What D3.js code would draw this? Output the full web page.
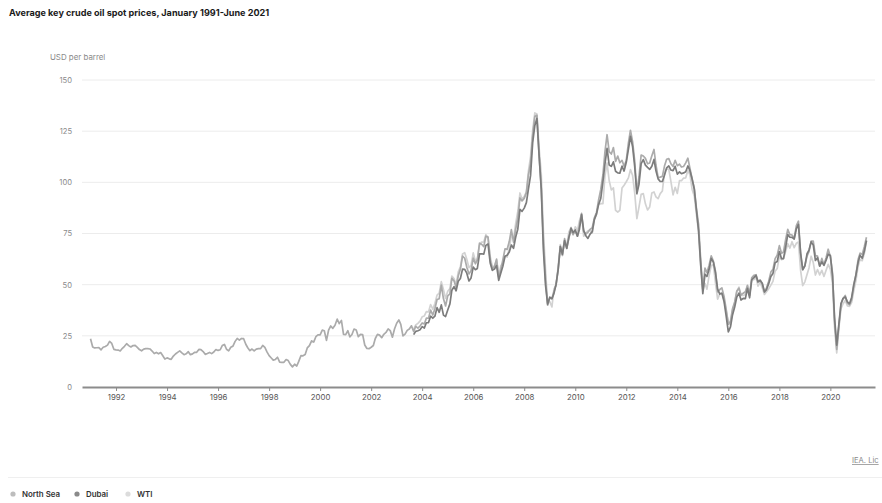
<!DOCTYPE html>
<html>
<head>
<meta charset="utf-8">
<script src="https://cdn.jsdelivr.net/npm/d3@7"></script>
<style>
  html, body { margin: 0; padding: 0; background: #fff; }
  svg { display: block; font-family: Inter, "Open Sans", sans-serif; }
</style>
</head>
<body>
<svg id="chart" width="882" height="503"></svg>
<script>
// Monthly average spot prices, USD per barrel
const northSeaStart = [1991, 0];   // January 1991
const northSea = [
  23.57, 19.54, 19.08, 19.18, 19.19, 18.17, 19.40, 19.77, 20.45, 22.26, 21.28, 18.41,
  18.16, 18.05, 17.63, 18.92, 19.89, 21.16, 20.23, 19.54, 20.26, 20.31, 19.34, 18.31,
  17.69, 18.49, 18.73, 18.71, 18.58, 17.56, 16.36, 16.89, 16.21, 16.84, 15.29, 13.63,
  14.23, 13.76, 13.52, 15.10, 16.12, 16.94, 17.65, 16.68, 15.78, 16.23, 17.25, 15.80,
  16.19, 16.96, 16.93, 18.36, 18.25, 17.30, 15.95, 16.38, 16.91, 16.30, 17.09, 18.32,
  17.87, 18.20, 20.23, 20.81, 18.45, 17.66, 19.44, 19.97, 22.29, 23.73, 22.93, 23.71,
  23.60, 20.87, 19.16, 17.74, 18.56, 17.63, 18.49, 18.76, 18.76, 20.31, 19.31, 17.16,
  15.33, 14.19, 13.16, 13.46, 14.53, 12.13, 12.05, 12.06, 13.43, 12.92, 11.06, 9.82,
  11.11, 10.27, 12.51, 15.29, 15.24, 15.87, 19.08, 20.22, 22.54, 21.94, 24.58, 25.47,
  25.51, 27.78, 27.49, 22.76, 27.74, 29.80, 28.68, 30.20, 33.14, 30.96, 32.55, 25.66,
  25.62, 27.50, 24.50, 25.66, 28.31, 27.85, 24.61, 25.68, 25.62, 20.54, 18.80, 18.71,
  19.42, 20.28, 23.70, 25.73, 25.35, 24.08, 25.74, 26.65, 28.40, 27.54, 24.34, 28.33,
  31.18, 32.77, 30.61, 25.00, 25.86, 27.65, 28.35, 29.89, 27.11, 29.61, 28.75, 29.81,
  31.28, 30.86, 33.63, 33.59, 37.57, 35.18, 38.22, 42.74, 43.16, 49.78, 43.11, 39.60,
  44.51, 45.48, 53.10, 51.88, 48.65, 54.35, 57.52, 63.98, 62.91, 58.54, 55.24, 56.86,
  62.99, 60.21, 62.06, 70.26, 69.78, 68.56, 73.67, 73.23, 61.96, 57.81, 58.76, 62.47,
  53.68, 57.56, 62.05, 67.49, 67.21, 71.05, 76.93, 70.76, 77.17, 82.34, 92.41, 90.93,
  92.18, 94.99, 103.64, 109.07, 122.80, 132.32, 132.72, 113.24, 97.23, 71.58, 52.45, 39.95,
  43.44, 43.32, 46.54, 50.18, 57.30, 68.61, 64.44, 72.51, 67.65, 72.77, 76.66, 74.46,
  76.17, 73.75, 78.83, 84.82, 75.95, 74.76, 75.58, 77.04, 77.84, 82.67, 85.28, 91.45,
  96.52, 103.72, 114.64, 123.26, 114.99, 113.83, 116.97, 110.22, 112.83, 109.55, 110.77, 107.87,
  110.69, 119.33, 125.45, 119.75, 110.34, 95.16, 102.62, 113.36, 112.86, 111.71, 109.06, 109.49,
  112.96, 116.05, 108.47, 102.25, 102.56, 102.92, 107.93, 111.28, 111.60, 109.08, 107.79, 110.76,
  108.12, 108.90, 107.48, 107.76, 109.54, 111.80, 106.77, 101.61, 97.09, 87.43, 79.44, 62.34,
  47.76, 58.10, 55.89, 59.52, 64.08, 61.48, 56.56, 46.52, 47.62, 48.43, 44.27, 38.01,
  30.70, 32.18, 38.21, 41.58, 46.74, 48.25, 44.95, 45.84, 46.57, 49.52, 44.73, 53.31,
  54.58, 54.87, 51.59, 52.31, 50.33, 46.37, 48.48, 51.70, 56.15, 57.51, 62.71, 64.37,
  69.08, 65.32, 66.02, 72.11, 76.98, 74.41, 74.25, 72.53, 78.89, 81.03, 64.75, 57.36,
  59.41, 63.96, 66.14, 71.23, 71.32, 64.22, 63.92, 59.04, 62.83, 59.71, 63.21, 67.31,
  63.65, 55.66, 32.01, 18.38, 29.38, 40.27, 43.24, 44.74, 40.91, 40.19, 42.69, 49.99,
  54.77, 62.28, 65.41, 64.81, 68.53, 73.16
];

const dubaiStart = [2003, 8];      // September 2003
const dubai = [
  25.6, 27.2, 27.5, 28.0,
  29.5, 28.8, 31.4, 31.5, 34.6, 33.6, 34.6, 38.8, 36.5, 40.1, 35.1, 34.4,
  37.6, 40.6, 47.3, 49.0, 47.0, 51.7, 53.0, 57.6, 57.5, 55.6, 51.8, 53.3,
  58.6, 57.3, 57.9, 65.0, 65.1, 64.9, 69.2, 69.9, 60.6, 57.0, 57.6, 59.4,
  52.1, 55.8, 59.0, 63.9, 64.4, 66.0, 69.4, 67.8, 73.3, 77.1, 86.8, 85.8,
  87.4, 90.1, 96.7, 103.4, 119.4, 127.8, 131.2, 113.2, 96.8, 67.4, 49.8, 40.5,
  43.9, 43.1, 45.6, 50.1, 57.4, 68.7, 64.9, 71.5, 67.8, 73.1, 77.6, 75.4,
  76.7, 73.7, 77.0, 84.2, 76.5, 73.9, 72.6, 74.7, 75.9, 81.8, 84.6, 89.2,
  92.1, 100.3, 108.7, 116.6, 108.5, 107.8, 110.0, 105.4, 104.6, 104.5, 107.9, 105.5,
  109.8, 116.2, 122.5, 117.3, 107.6, 94.4, 99.0, 109.1, 111.1, 108.4, 107.3, 106.3,
  107.9, 111.2, 105.6, 101.7, 100.4, 100.4, 103.5, 107.1, 108.0, 106.0, 105.7, 107.8,
  104.0, 105.1, 104.2, 104.6, 105.2, 108.0, 105.7, 101.6, 96.6, 86.6, 76.4, 60.2,
  45.6, 55.1, 54.0, 57.5, 62.8, 61.0, 55.9, 47.8, 45.4, 45.8, 41.8, 34.7,
  26.9, 29.4, 35.2, 39.1, 43.9, 45.9, 42.5, 43.3, 43.2, 48.2, 43.6, 52.4,
  53.4, 54.5, 51.3, 52.0, 50.7, 46.5, 47.6, 50.5, 54.0, 55.5, 60.7, 61.3,
  66.2, 62.7, 62.7, 68.4, 74.5, 73.2, 73.1, 72.3, 77.3, 79.4, 65.6, 57.3,
  59.1, 65.1, 66.9, 70.9, 69.4, 61.8, 63.2, 59.1, 61.1, 59.4, 62.0, 64.9,
  64.3, 54.2, 33.9, 20.4, 30.5, 40.8, 43.3, 44.0, 41.6, 40.7, 43.9, 49.8,
  54.8, 60.9, 64.4, 62.9, 66.3, 71.6
];

const wtiStart = [2003, 8];        // September 2003
const wti = [
  28.3, 30.3, 31.1, 32.2,
  34.3, 34.7, 36.8, 36.7, 40.3, 38.0, 40.8, 44.9, 45.9, 51.5, 47.5, 43.3,
  46.8, 48.1, 54.2, 53.0, 49.8, 56.3, 58.7, 65.0, 65.6, 62.4, 58.3, 59.4,
  65.5, 61.6, 62.7, 69.4, 70.8, 70.9, 74.4, 73.0, 63.8, 58.9, 59.1, 62.0,
  54.5, 59.3, 60.4, 64.0, 63.5, 67.5, 74.1, 72.4, 79.9, 85.8, 94.8, 91.7,
  93.0, 95.4, 105.5, 112.6, 125.4, 133.9, 133.4, 116.7, 104.1, 76.6, 57.3, 41.1,
  41.7, 39.1, 47.9, 49.6, 59.0, 69.6, 64.2, 71.1, 69.4, 75.7, 78.0, 74.5,
  78.3, 76.4, 81.2, 84.3, 73.7, 75.3, 76.3, 76.6, 75.2, 81.9, 84.3, 89.2,
  89.6, 89.6, 102.9, 109.5, 100.9, 96.3, 97.3, 86.3, 85.5, 86.3, 97.2, 98.6,
  100.3, 102.2, 106.2, 103.3, 94.7, 82.3, 87.9, 94.1, 94.5, 89.5, 86.5, 87.9,
  94.8, 95.3, 92.9, 92.0, 94.5, 95.8, 104.6, 106.6, 106.3, 100.5, 93.9, 97.6,
  94.6, 100.8, 100.8, 102.1, 102.2, 105.8, 103.6, 96.5, 93.2, 84.4, 75.8, 59.3,
  47.2, 50.6, 47.8, 54.5, 59.3, 59.8, 50.9, 42.9, 45.5, 46.2, 42.4, 37.2,
  31.7, 30.3, 37.6, 40.8, 46.7, 48.8, 44.7, 44.7, 45.2, 49.8, 45.7, 52.0,
  52.5, 53.5, 49.3, 51.1, 48.5, 45.2, 46.6, 48.0, 49.8, 51.6, 56.6, 57.9,
  63.7, 62.2, 62.7, 66.3, 70.0, 67.9, 71.0, 68.1, 70.2, 70.8, 57.0, 49.5,
  51.4, 55.0, 58.2, 63.9, 60.8, 54.7, 57.4, 54.8, 57.0, 54.0, 57.0, 59.9,
  57.5, 50.5, 29.2, 16.6, 28.6, 38.3, 40.7, 42.3, 39.6, 39.4, 41.4, 47.0,
  52.0, 59.0, 62.3, 61.7, 65.2, 71.4
];

const yTicks = [0, 25, 50, 75, 100, 125, 150];
const xTickYears = [1992, 1994, 1996, 1998, 2000, 2002, 2004, 2006, 2008, 2010, 2012, 2014, 2016, 2018, 2020];

const titleText = "Average key crude oil spot prices, January 1991-June 2021";
const unitText = "USD per barrel";
const sourceText = "IEA. Lic";

const series = [
  { name: "WTI",       start: wtiStart,      values: wti,      color: "#d2d2d2" },
  { name: "North Sea", start: northSeaStart, values: northSea, color: "#ababab" },
  { name: "Dubai",     start: dubaiStart,    values: dubai,    color: "#7c7c7c" }
];
const legendOrder = ["North Sea", "Dubai", "WTI"];
const legendColors = { "North Sea": "#bdbdbd", "Dubai": "#8a8a8a", "WTI": "#dcdcdc" };

const svg = d3.select("#chart");
const plot = { left: 82, right: 875, top: 80, bottom: 387 };

const x = d3.scaleTime()
  .domain([new Date(1990, 8, 1), new Date(2021, 9, 1)])
  .range([plot.left, plot.right]);
const y = d3.scaleLinear().domain([0, 150]).range([plot.bottom, plot.top]);

// title and unit
svg.append("text")
  .attr("x", 9).attr("y", 16)
  .attr("font-size", 9.1).attr("font-weight", 700).attr("fill", "#1a1a1a")
  .text(titleText);
svg.append("text")
  .attr("x", 50).attr("y", 60)
  .attr("font-size", 7.9).attr("fill", "#8a8a8a")
  .text(unitText);

// horizontal grid
svg.append("g")
  .selectAll("line")
  .data(yTicks.filter(d => d > 0))
  .join("line")
  .attr("x1", plot.left).attr("x2", plot.right)
  .attr("y1", d => y(d)).attr("y2", d => y(d))
  .attr("stroke", "#ececec").attr("stroke-width", 1);

// y axis labels
const yAxis = d3.axisLeft(y).tickValues(yTicks).tickSize(0).tickPadding(0);
const yG = svg.append("g").attr("transform", `translate(${plot.left - 10},0)`).call(yAxis);
yG.select(".domain").remove();
yG.selectAll("text")
  .attr("font-family", "Inter, sans-serif")
  .attr("font-size", 7.6).attr("fill", "#8a8a8a");

// x axis
const xAxis = d3.axisBottom(x)
  .tickValues(xTickYears.map(yr => new Date(yr, 0, 1)))
  .tickFormat(d3.timeFormat("%Y"))
  .tickSize(4).tickSizeOuter(0).tickPadding(3);
const xG = svg.append("g").attr("transform", `translate(0,${plot.bottom})`).call(xAxis);
xG.select(".domain").attr("stroke", "#8c8c8c").attr("stroke-width", 2);
xG.selectAll(".tick line").attr("stroke", "#8c8c8c").attr("stroke-width", 1);
xG.selectAll("text")
  .attr("font-family", "Inter, sans-serif")
  .attr("font-size", 7.8).attr("fill", "#555");

// series lines
const line = d3.line()
  .x(d => x(d.date))
  .y(d => y(d.value));

svg.append("g")
  .selectAll("path")
  .data(series)
  .join("path")
  .attr("fill", "none")
  .attr("stroke", d => d.color)
  .attr("stroke-width", 1.7)
  .attr("stroke-linejoin", "round")
  .attr("d", s => line(s.values.map((v, i) => ({
    date: new Date(s.start[0], s.start[1] + i, 1),
    value: v
  }))));

// source link
svg.append("text")
  .attr("x", 852).attr("y", 463)
  .attr("font-size", 7.6).attr("fill", "#8a8a8a")
  .attr("text-decoration", "underline")
  .text(sourceText);

// footer separator
svg.append("line")
  .attr("x1", 8).attr("x2", 882)
  .attr("y1", 477.5).attr("y2", 477.5)
  .attr("stroke", "#efefef").attr("stroke-width", 1);

// legend
const legendX = { "North Sea": 13, "Dubai": 77, "WTI": 128 };
const lg = svg.append("g")
  .selectAll("g")
  .data(legendOrder)
  .join("g")
  .attr("transform", d => `translate(${legendX[d]},494)`);
lg.append("circle").attr("r", 2.6).attr("fill", d => legendColors[d]);
lg.append("text")
  .attr("x", 9).attr("y", 2.8)
  .attr("font-size", 7.9).attr("font-weight", 600).attr("fill", "#333")
  .text(d => d);
</script>
</body>
</html>
